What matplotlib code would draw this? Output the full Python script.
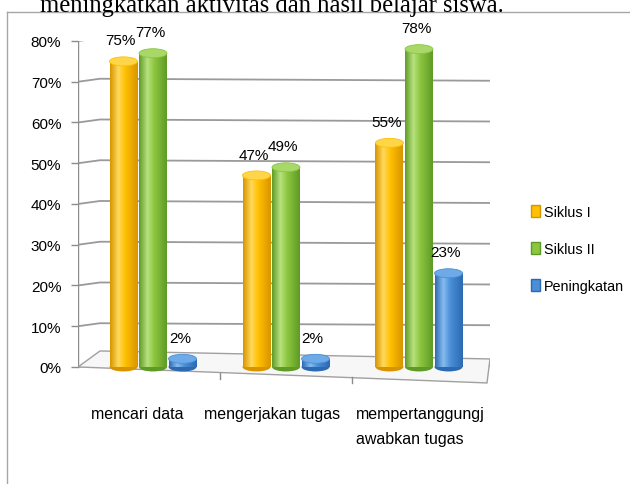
import numpy as np
import matplotlib
matplotlib.use("Agg")
import matplotlib.pyplot as plt
from matplotlib.patches import Ellipse, Patch, Polygon
from matplotlib.lines import Line2D
from matplotlib.colors import LinearSegmentedColormap

plt.rcParams['font.family'] = ['Liberation Sans', 'DejaVu Sans']

# data
categories = ["mencari data", "mengerjakan tugas", "mempertanggungj\nawabkan tugas"]
series = ["Siklus I", "Siklus II", "Peningkatan"]
siklus1 = [0.75, 0.47, 0.55]
siklus2 = [0.77, 0.49, 0.78]
peningkatan = [0.02, 0.02, 0.23]
yticks = [0.0, 0.1, 0.2, 0.3, 0.4, 0.5, 0.6, 0.7, 0.8]

# (dark edge, base, highlight, cap)
palette = [
    ("#D89400", "#FFC000", "#FFD95C", "#FFD54A"),
    ("#5E9A26", "#8CC63F", "#B8E27E", "#A7D868"),
    ("#2C69B0", "#4A8FD8", "#86BCF0", "#6EA9E8"),
]

W, H = 630, 485
fig = plt.figure(figsize=(W / 100, H / 100), dpi=100)
ax = fig.add_axes([78 / W, (H - 392) / H, 412 / W, 350 / H])
x0, x1 = -0.564, 2.534
ymin, ymax = -0.059, 0.8
ax.set_xlim(x0, x1)
ax.set_ylim(ymin, ymax)
ux = (x1 - x0) / 412.0   # data units per pixel
uy = (ymax - ymin) / 350.0

for s in ax.spines.values():
    s.set_visible(False)

# back wall grid with a little perspective kink on the left
for v in yticks:
    ax.plot([x0, x0 + 22 * ux, x1], [v, v + 3 * uy, v + 1 * uy],
            color="#9A9A9A", lw=1.3, zorder=1)
ax.plot([x0, x0], [0, 0.8], color="#8C8C8C", lw=1.0, zorder=1)

# floor
floor = Polygon([(x0, 0), (x0 + 22 * ux, 16 * uy), (x1, 8 * uy),
                 (x1 - 3 * ux, -16 * uy), (x0, 0)], closed=True,
                facecolor="#F7F7F7", edgecolor="#A0A0A0", lw=1.0, zorder=1)
ax.add_patch(floor)
for xt in [0.5, 1.5]:
    ax.plot([xt, xt], [-(4 + 4 * xt) * uy, -(10 + 4 * xt) * uy], color="#8C8C8C", lw=1.0, zorder=1)

ax.set_yticks(yticks)
ax.set_yticklabels([f"{int(round(v * 100))}%" for v in yticks])
ax.tick_params(axis="y", length=5, width=1, color="#8C8C8C", pad=7, labelsize=11)
ax.set_xticks([])

bw = 0.21
step = 0.222
cap_h = 9 * uy
grad = np.linspace(0, 1, 256).reshape(1, -1)
vals_all = [siklus1, siklus2, peningkatan]
for si, vals in enumerate(vals_all):
    dark, base, light, cap = palette[si]
    cmap = LinearSegmentedColormap.from_list(
        "c%d" % si, [(0, dark), (0.3, light), (0.55, base), (1, dark)])
    for ci, v in enumerate(vals):
        xc = ci + (si - 1) * step
        bot = Ellipse((xc, 0), bw, cap_h, facecolor=dark, edgecolor="none", zorder=3)
        ax.add_patch(bot)
        bar = ax.bar(xc, v, bw, color=base, edgecolor="none", zorder=3)[0]
        im = ax.imshow(grad, extent=(xc - bw / 2, xc + bw / 2, 0, v), cmap=cmap,
                       aspect="auto", zorder=4, interpolation="bilinear")
        im.set_clip_path(bar)
        top = Ellipse((xc, v), bw, cap_h, facecolor=cap, edgecolor=base, lw=0.6, zorder=5)
        ax.add_patch(top)
        ax.annotate(f"{int(round(v * 100))}%", (xc, v), xytext=(-2, 10),
                    textcoords="offset points", ha="center", va="bottom",
                    fontsize=11, zorder=6)

ax.set_xlim(x0, x1)
ax.set_ylim(ymin, ymax)

# category labels
label_dx = [-16, -14, 1]
for ci, (lab, dx) in enumerate(zip(categories, label_dx)):
    ax.annotate(lab, (ci, ymin), xytext=(dx * 0.72, -11), textcoords="offset points",
                ha="center", va="top", fontsize=11.5, multialignment="left",
                linespacing=1.85, annotation_clip=False)

# legend
handles = [Patch(facecolor=palette[i][1], edgecolor=palette[i][0]) for i in range(3)]
fig.legend(handles, series, loc="center left", bbox_to_anchor=(518 / W, 1 - 250 / H),
           frameon=False, fontsize=10.4, handlelength=0.6, handleheight=0.9,
           handletextpad=0.3, labelspacing=1.6)

# chart frame
fig.add_artist(Line2D([7 / W, 1], [1 - 13 / H, 1 - 13 / H], color="#A6A6A6", lw=1.0))
fig.add_artist(Line2D([7 / W, 7 / W], [0, 1 - 13 / H], color="#A6A6A6", lw=1.0))

# surrounding document text, cut at the top
fig.text(40 / W, 1 - 12 / H, "meningkatkan aktivitas dan hasil belajar siswa.",
         family="Liberation Serif", fontsize=17.7, va="baseline", ha="left")

fig.savefig("out.png", dpi=100)
